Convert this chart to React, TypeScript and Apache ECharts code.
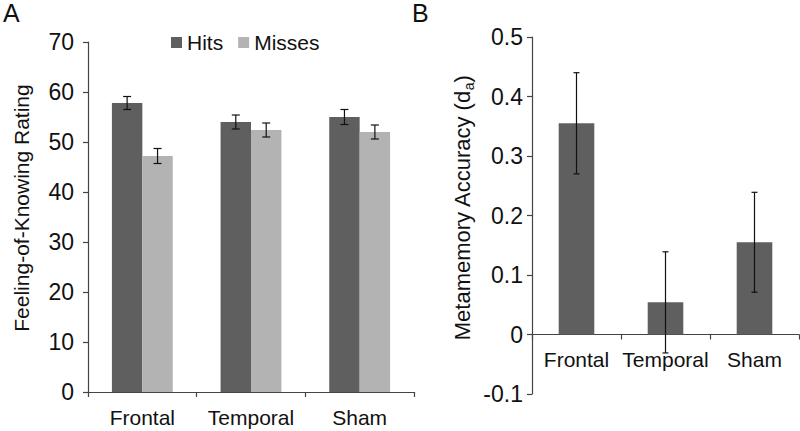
import React, { useEffect, useRef } from "react";
import * as echarts from "echarts";

const categories = ["Frontal", "Temporal", "Sham"];
const hits = [57.8, 54.0, 55.0];
const hitsErr = [1.3, 1.4, 1.5];
const misses = [47.2, 52.4, 52.0];
const missesErr = [1.5, 1.4, 1.4];
const accuracy = [0.355, 0.054, 0.155];
const accuracyErr = [0.085, 0.085, 0.084];
const ratingAxis = { min: 0, max: 70, interval: 10 };
const accuracyAxis = { min: -0.1, max: 0.5, interval: 0.1 };

const FONT = "'Liberation Sans', Arial, sans-serif";
const AXIS_COLOR = "#444";
const DARK = "#5f5f5f";
const LIGHT = "#b3b3b3";

function errData(vals: number[], errs: number[], side: number) {
  return vals.map((v, i) => [i, v - errs[i], v + errs[i], side]);
}

function makeErrRender(offsetFrac: number, capHalf: number) {
  return (params: any, api: any) => {
    const idx = api.value(0);
    const low = api.value(1);
    const high = api.value(2);
    const side = api.value(3);
    const band = api.size([1, 0])[0];
    const top = api.coord([idx, high]);
    const bot = api.coord([idx, low]);
    const x = top[0] + side * band * offsetFrac;
    const style = { stroke: "#111", lineWidth: 1.2 };
    return {
      type: "group",
      children: [
        { type: "line", shape: { x1: x, y1: top[1], x2: x, y2: bot[1] }, style },
        { type: "line", shape: { x1: x - capHalf, y1: top[1], x2: x + capHalf, y2: top[1] }, style },
        { type: "line", shape: { x1: x - capHalf, y1: bot[1], x2: x + capHalf, y2: bot[1] }, style },
      ],
    };
  };
}

const GRID_B = { left: 532, top: 37, width: 267, height: 357 };
// distance from grid bottom to the value 0 on the accuracy axis
const zeroOffset =
  (GRID_B.height * (0 - accuracyAxis.min)) / (accuracyAxis.max - accuracyAxis.min);

export default function App() {
  const ref = useRef<HTMLDivElement>(null);
  useEffect(() => {
    document.body.style.margin = "0";
    if (!ref.current) return;
    const chart = echarts.init(ref.current, null, { renderer: "svg" });
    const axisLine = { show: true, lineStyle: { color: AXIS_COLOR, width: 1.2 } };
    const axisTick = { show: true, length: 5, lineStyle: { color: AXIS_COLOR, width: 1.2 } };
    chart.setOption({
      animation: false,
      textStyle: { fontFamily: FONT },
      legend: {
        left: 166,
        top: 27,
        icon: "rect",
        itemWidth: 11,
        itemHeight: 11,
        itemGap: 15,
        textStyle: { fontSize: 21, color: "#111", fontFamily: FONT },
        data: ["Hits", "Misses"],
      },
      grid: [{ left: 88, top: 42, width: 326, height: 350 }, GRID_B],
      xAxis: [
        {
          type: "category",
          gridIndex: 0,
          data: categories,
          axisLine,
          axisTick,
          axisLabel: { fontSize: 21, color: "#111", margin: 15, interval: 0, fontFamily: FONT },
        },
        {
          type: "category",
          gridIndex: 1,
          data: categories,
          offset: -zeroOffset,
          axisLine: { ...axisLine, onZero: false },
          axisTick,
          axisLabel: { fontSize: 21, color: "#111", margin: 14, interval: 0, fontFamily: FONT },
        },
      ],
      yAxis: [
        {
          type: "value",
          gridIndex: 0,
          min: ratingAxis.min,
          max: ratingAxis.max,
          interval: ratingAxis.interval,
          splitLine: { show: false },
          axisLine,
          axisTick,
          axisLabel: { fontSize: 23, color: "#111", margin: 14, fontFamily: FONT },
        },
        {
          type: "value",
          gridIndex: 1,
          min: accuracyAxis.min,
          max: accuracyAxis.max,
          interval: accuracyAxis.interval,
          splitLine: { show: false },
          axisLine,
          axisTick,
          axisLabel: { fontSize: 23, color: "#111", margin: 9, fontFamily: FONT },
        },
      ],
      series: [
        {
          name: "Hits",
          type: "bar",
          xAxisIndex: 0,
          yAxisIndex: 0,
          data: hits,
          barGap: "0%",
          barCategoryGap: "44%",
          itemStyle: { color: DARK },
        },
        {
          name: "Misses",
          type: "bar",
          xAxisIndex: 0,
          yAxisIndex: 0,
          data: misses,
          barGap: "0%",
          barCategoryGap: "44%",
          itemStyle: { color: LIGHT },
        },
        {
          type: "custom",
          xAxisIndex: 0,
          yAxisIndex: 0,
          z: 5,
          encode: { x: 0, y: [1, 2] },
          data: [...errData(hits, hitsErr, -1), ...errData(misses, missesErr, 1)],
          renderItem: makeErrRender(0.14, 4),
        },
        {
          name: "Accuracy",
          type: "bar",
          xAxisIndex: 1,
          yAxisIndex: 1,
          data: accuracy,
          barCategoryGap: "60%",
          itemStyle: { color: DARK },
        },
        {
          type: "custom",
          xAxisIndex: 1,
          yAxisIndex: 1,
          z: 5,
          encode: { x: 0, y: [1, 2] },
          data: errData(accuracy, accuracyErr, 0),
          renderItem: makeErrRender(0, 3),
        },
      ],
      graphic: [
        {
          type: "text",
          left: 3,
          top: 0,
          style: { text: "A", fontSize: 25, fill: "#111", fontFamily: FONT },
        },
        {
          type: "text",
          left: 412,
          top: 0,
          style: { text: "B", fontSize: 25, fill: "#111", fontFamily: FONT },
        },
        {
          type: "text",
          x: 21,
          y: 208,
          rotation: Math.PI / 2,
          style: {
            text: "Feeling-of-Knowing Rating",
            fontSize: 21,
            fill: "#111",
            fontFamily: FONT,
            align: "center",
            verticalAlign: "middle",
          },
        },
        {
          type: "text",
          x: 462,
          y: 208,
          rotation: Math.PI / 2,
          style: {
            text: "Metamemory Accuracy (d{sub|a})",
            fontSize: 22,
            fill: "#111",
            fontFamily: FONT,
            align: "center",
            verticalAlign: "middle",
            lineHeight: 28,
            rich: {
              sub: { fontSize: 14, verticalAlign: "bottom", lineHeight: 14, fill: "#111", fontFamily: FONT },
            },
          },
        },
      ],
    });
    return () => chart.dispose();
  }, []);
  return <div ref={ref} style={{ width: 800, height: 431 }} />;
}
